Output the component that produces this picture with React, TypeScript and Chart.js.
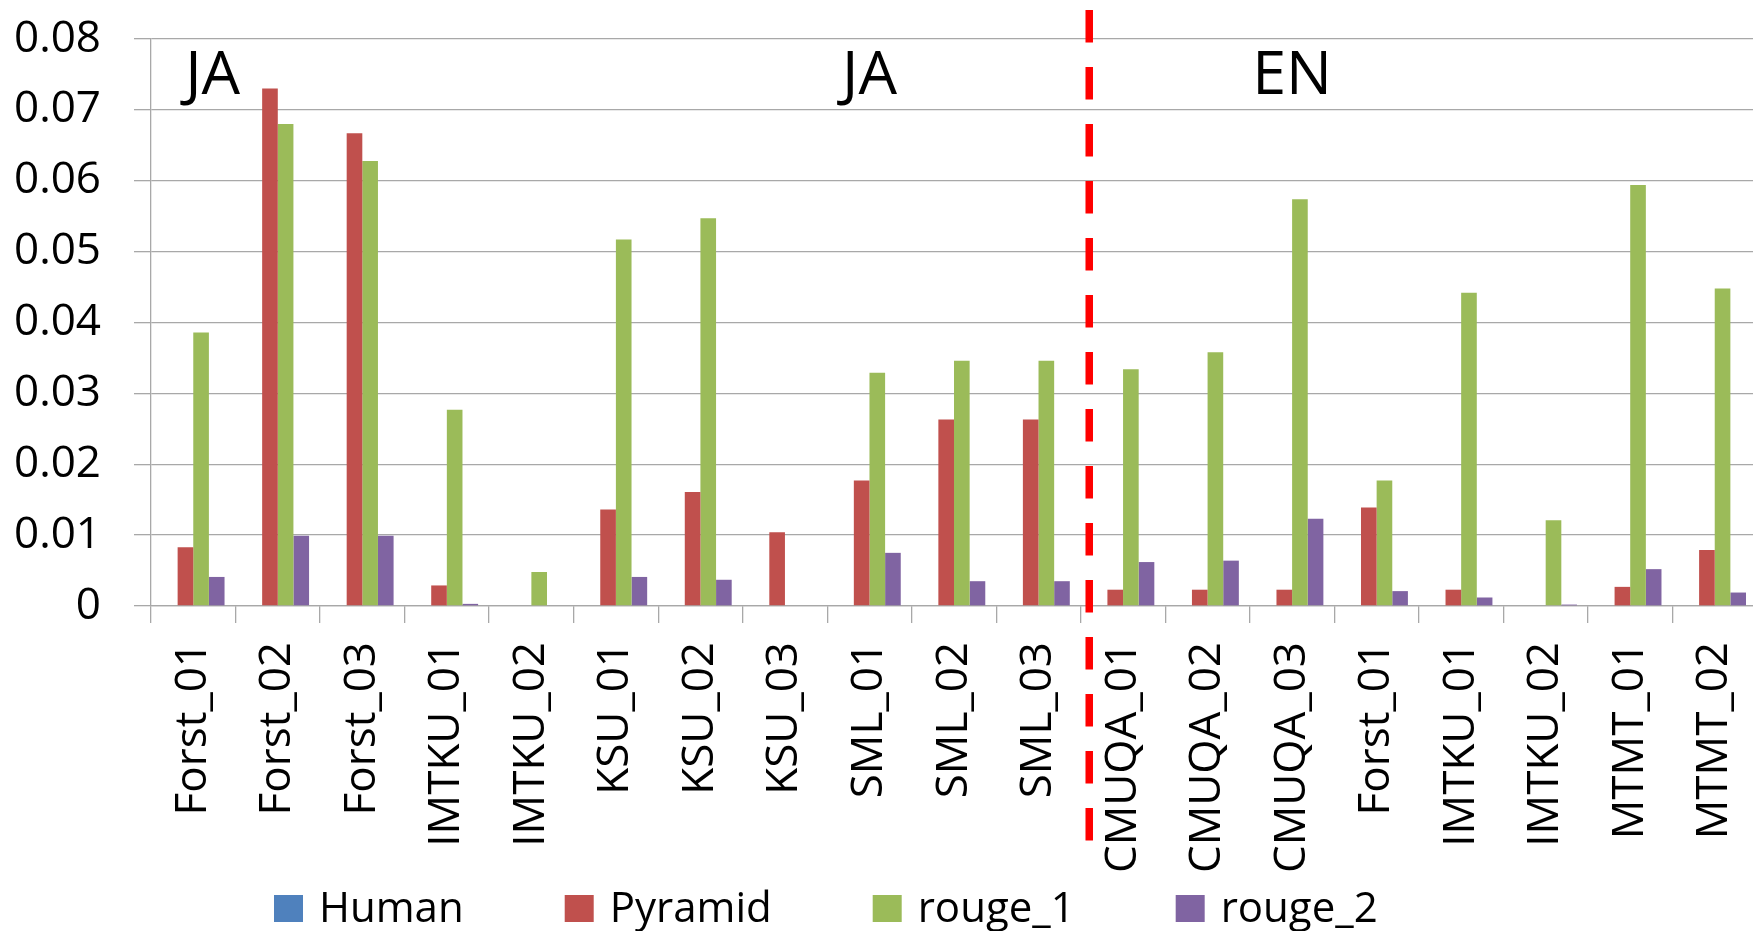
import { useEffect, useRef } from "react";
import { Chart, registerables } from "chart.js";

Chart.register(...registerables);

// Runs: Japanese submissions first, then English ones.
const categories = [
  "Forst_01", "Forst_02", "Forst_03", "IMTKU_01", "IMTKU_02",
  "KSU_01", "KSU_02", "KSU_03", "SML_01", "SML_02", "SML_03",
  "CMUQA_01", "CMUQA_02", "CMUQA_03", "Forst_01", "IMTKU_01",
  "IMTKU_02", "MTMT_01", "MTMT_02",
];

const human = [0, 0, 0, 0, 0, 0, 0, 0, 0, 0, 0, 0, 0, 0, 0, 0, 0, 0, 0];
const pyramid = [
  0.0083, 0.073, 0.0667, 0.0029, 0, 0.0136, 0.0161, 0.0104, 0.0177, 0.0263, 0.0263,
  0.0023, 0.0023, 0.0023, 0.0139, 0.0023, 0, 0.0027, 0.0079,
];
const rouge1 = [
  0.0386, 0.068, 0.0628, 0.0277, 0.0048, 0.0517, 0.0547, 0, 0.0329, 0.0346, 0.0346,
  0.0334, 0.0358, 0.0574, 0.0177, 0.0442, 0.0121, 0.0594, 0.0448,
];
const rouge2 = [
  0.0041, 0.0099, 0.0099, 0.0003, 0, 0.0041, 0.0037, 0, 0.0075, 0.0035, 0.0035,
  0.0062, 0.0064, 0.0123, 0.0021, 0.0012, 0.0002, 0.0052, 0.0019,
];

const seriesNames = ["Human", "Pyramid", "rouge_1", "rouge_2"];
const seriesColors = ["#4F81BD", "#C0504D", "#9BBB59", "#8064A2"];

const yTickLabels = ["0", "0.01", "0.02", "0.03", "0.04", "0.05", "0.06", "0.07", "0.08"];

// Language group captions placed along the category axis.
const groupLabels = ["JA", "JA", "EN"];
const groupLabelAt = [0.23, 8, 13];
const groupLabelBaseline = 0.0722;

// Boundary between the Japanese and English runs.
const dividerAt = 10.6;

const FONT = '"Open Sans", "DejaVu Sans", sans-serif';
const GRID = "#A8A8A8";

const groupLabelPlugin = {
  id: "groupLabels",
  afterDatasetsDraw(chart: any) {
    const { ctx, scales } = chart;
    const x = scales.x;
    const y = scales.y;
    ctx.save();
    ctx.fillStyle = "#000";
    ctx.font = `61px ${FONT}`;
    ctx.textAlign = "center";
    ctx.textBaseline = "alphabetic";
    groupLabels.forEach((t, i) => {
      ctx.fillText(t, x.getPixelForValue(groupLabelAt[i]), y.getPixelForValue(groupLabelBaseline));
    });
    ctx.restore();
  },
};

const dividerPlugin = {
  id: "divider",
  afterDraw(chart: any) {
    const { ctx, scales } = chart;
    const px = scales.x.getPixelForValue(dividerAt);
    ctx.save();
    ctx.strokeStyle = "#FF0000";
    ctx.lineWidth = 7.5;
    ctx.setLineDash([32.5, 24.5]);
    ctx.beginPath();
    ctx.moveTo(px, scales.y.getPixelForValue(0.0841));
    ctx.lineTo(px, scales.y.getPixelForValue(-0.0333));
    ctx.stroke();
    ctx.restore();
  },
};

const legendPlugin = {
  id: "bottomLegend",
  afterDraw(chart: any) {
    const { ctx } = chart;
    ctx.save();
    ctx.font = `42px ${FONT}`;
    ctx.textBaseline = "alphabetic";
    ctx.textAlign = "left";
    let x = 274;
    const baseline = 922;
    chart.data.datasets.forEach((ds: any) => {
      ctx.fillStyle = ds.backgroundColor;
      ctx.fillRect(x, 895, 29, 27);
      x += 29 + 16;
      ctx.fillStyle = "#000";
      ctx.fillText(ds.label, x, baseline);
      x += ctx.measureText(ds.label).width + 101;
    });
    ctx.restore();
  },
};

export default function App() {
  const canvasRef = useRef<HTMLCanvasElement | null>(null);

  useEffect(() => {
    let chart: Chart | null = null;
    let cancelled = false;

    const build = () => {
      if (cancelled || !canvasRef.current) return;
      const series = [human, pyramid, rouge1, rouge2];
      chart = new Chart(canvasRef.current, {
        type: "bar",
        data: {
          labels: categories,
          datasets: series.map((values, i) => ({
            label: seriesNames[i],
            data: values,
            backgroundColor: seriesColors[i],
            borderWidth: 0,
            barPercentage: 1,
            categoryPercentage: 0.74,
          })),
        },
        options: {
          animation: false,
          responsive: false,
          devicePixelRatio: 1,
          layout: { padding: { top: 39, right: 3, bottom: 0, left: 0 } },
          plugins: {
            legend: { display: false },
            tooltip: { enabled: false },
          },
          scales: {
            x: {
              offset: true,
              grid: {
                offset: true,
                drawOnChartArea: false,
                drawTicks: true,
                tickLength: 17,
                color: GRID,
                lineWidth: 1.3,
              },
              border: { display: true, color: GRID, width: 1.3 },
              ticks: {
                autoSkip: false,
                maxRotation: 90,
                minRotation: 90,
                padding: 19,
                color: "#000",
                font: { family: FONT, size: 44 },
              },
              afterFit(scale: any) {
                scale.height = 325;
                scale.paddingLeft = 0;
                scale.paddingRight = 0;
              },
            },
            y: {
              min: 0,
              max: 0.08,
              ticks: {
                stepSize: 0.01,
                padding: 33,
                color: "#000",
                font: { family: FONT, size: 44 },
                callback: (_v: any, i: number) => yTickLabels[i],
              },
              grid: {
                color: GRID,
                lineWidth: 1.3,
                tickLength: 17,
                drawTicks: true,
              },
              border: { display: true, color: GRID, width: 1.3 },
              afterFit(scale: any) {
                scale.width = 151;
                scale.paddingTop = 0;
                scale.paddingBottom = 0;
              },
            },
          },
        },
        plugins: [groupLabelPlugin, dividerPlugin, legendPlugin],
      });
    };

    if ((document as any).fonts && (document as any).fonts.load) {
      Promise.all([
        (document as any).fonts.load(`44px "Open Sans"`),
        (document as any).fonts.load(`61px "Open Sans"`),
      ])
        .catch(() => null)
        .then(build);
    } else {
      build();
    }

    return () => {
      cancelled = true;
      if (chart) chart.destroy();
    };
  }, []);

  return (
    <div
      style={{
        position: "fixed",
        left: 0,
        top: 0,
        width: 1753,
        height: 931,
        overflow: "hidden",
        background: "#fff",
      }}
    >
      <canvas ref={canvasRef} width={1760} height={931} style={{ width: 1760, height: 931, display: "block" }} />
    </div>
  );
}
